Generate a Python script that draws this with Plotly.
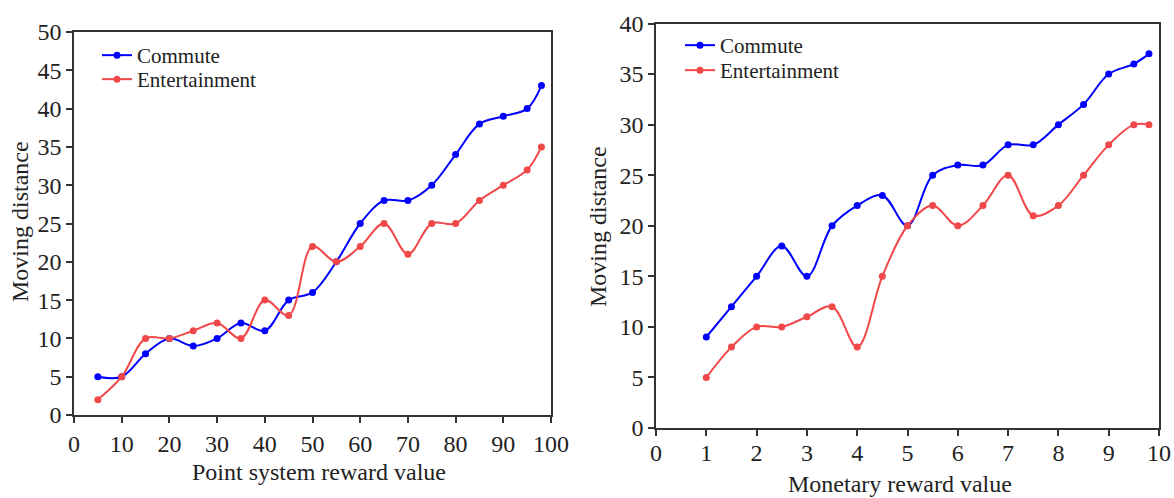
import plotly.graph_objects as go

# Left panel data
point_x = [5, 10, 15, 20, 25, 30, 35, 40, 45, 50, 55, 60, 65, 70, 75, 80, 85, 90, 95, 98]
point_commute = [5, 5, 8, 10, 9, 10, 12, 11, 15, 16, 20, 25, 28, 28, 30, 34, 38, 39, 40, 43]
point_entertain = [2, 5, 10, 10, 11, 12, 10, 15, 13, 22, 20, 22, 25, 21, 25, 25, 28, 30, 32, 35]

# Right panel data
money_x = [1, 1.5, 2, 2.5, 3, 3.5, 4, 4.5, 5, 5.5, 6, 6.5, 7, 7.5, 8, 8.5, 9, 9.5, 9.8]
money_commute = [9, 12, 15, 18, 15, 20, 22, 23, 20, 25, 26, 26, 28, 28, 30, 32, 35, 36, 37]
money_entertain = [5, 8, 10, 10, 11, 12, 8, 15, 20, 22, 20, 22, 25, 21, 22, 25, 28, 30, 30]

BLUE = "#0000ff"
RED = "#f04848"
FONT = "Liberation Serif, Times New Roman, serif"
AX = "#333333"
TXT = "#222222"

fig = go.Figure()

def add(x, y, name, color, xa, ya, leg):
    fig.add_trace(go.Scatter(
        x=x, y=y, name=name, mode="lines+markers",
        line=dict(color=color, width=2, shape="spline", smoothing=1.0),
        marker=dict(color=color, size=7),
        xaxis=xa, yaxis=ya, legend=leg, showlegend=True,
    ))

add(point_x, point_commute, "Commute", BLUE, "x", "y", "legend2")
add(point_x, point_entertain, "Entertainment", RED, "x", "y", "legend3")
add(money_x, money_commute, "Commute", BLUE, "x2", "y2", "legend4")
add(money_x, money_entertain, "Entertainment", RED, "x2", "y2", "legend5")

# body margin is removed by post_script, so figure fills the window
OFF = 0
W, H = 1174, 498

def px(v):
    return (v - OFF) / W

def py(v):
    return 1 - (v - OFF) / H

axis_common = dict(
    showline=True, linecolor=AX, linewidth=1.5, mirror=True,
    ticks="outside", ticklen=6, tickwidth=1.5, tickcolor=AX,
    showgrid=False, zeroline=False,
    tickfont=dict(family=FONT, size=24, color=TXT),
    automargin=False,
)

def leg(x, y):
    return dict(x=px(x), y=py(y), xanchor="left", yanchor="top", visible=True,
                bgcolor="rgba(0,0,0,0)", font=dict(family=FONT, size=21, color=TXT))

def title(text, x, y, angle=0):
    return dict(text=text, x=px(x), y=py(y), xref="paper", yref="paper", textangle=angle,
                xanchor="center", yanchor="middle", showarrow=False,
                font=dict(family=FONT, size=24, color=TXT))

fig.update_layout(
    width=W, height=H,
    margin=dict(l=0, r=0, t=0, b=0),
    plot_bgcolor="white", paper_bgcolor="white",
    showlegend=True,
    font=dict(family=FONT, size=20, color=TXT),
    xaxis=dict(domain=[px(74), px(551)], range=[0, 100], dtick=10, anchor="y",
               ticklabelstandoff=0, **axis_common),
    yaxis=dict(domain=[py(415), py(32)], range=[0, 50], dtick=5, anchor="x",
               **axis_common),
    xaxis2=dict(domain=[px(656), px(1159)], range=[0, 10], dtick=1, anchor="y2",
                ticklabelstandoff=-4, **axis_common),
    yaxis2=dict(domain=[py(428), py(23.5)], range=[0, 40], dtick=5, anchor="x2",
                **axis_common),
    legend2=leg(97, 35),
    legend3=leg(97, 59),
    legend4=leg(680, 25),
    legend5=leg(680, 50),
    annotations=[
        title("Point system reward value", 319, 472),
        title("Monetary reward value", 900, 484),
        title("Moving distance", 20, 222, -90),
        title("Moving distance", 598, 227, -90),
    ],
)

fig.write_html(
    "out.html",
    config={"displayModeBar": False},
    post_script="document.body.style.margin='0';document.body.style.overflow='hidden';",
)
